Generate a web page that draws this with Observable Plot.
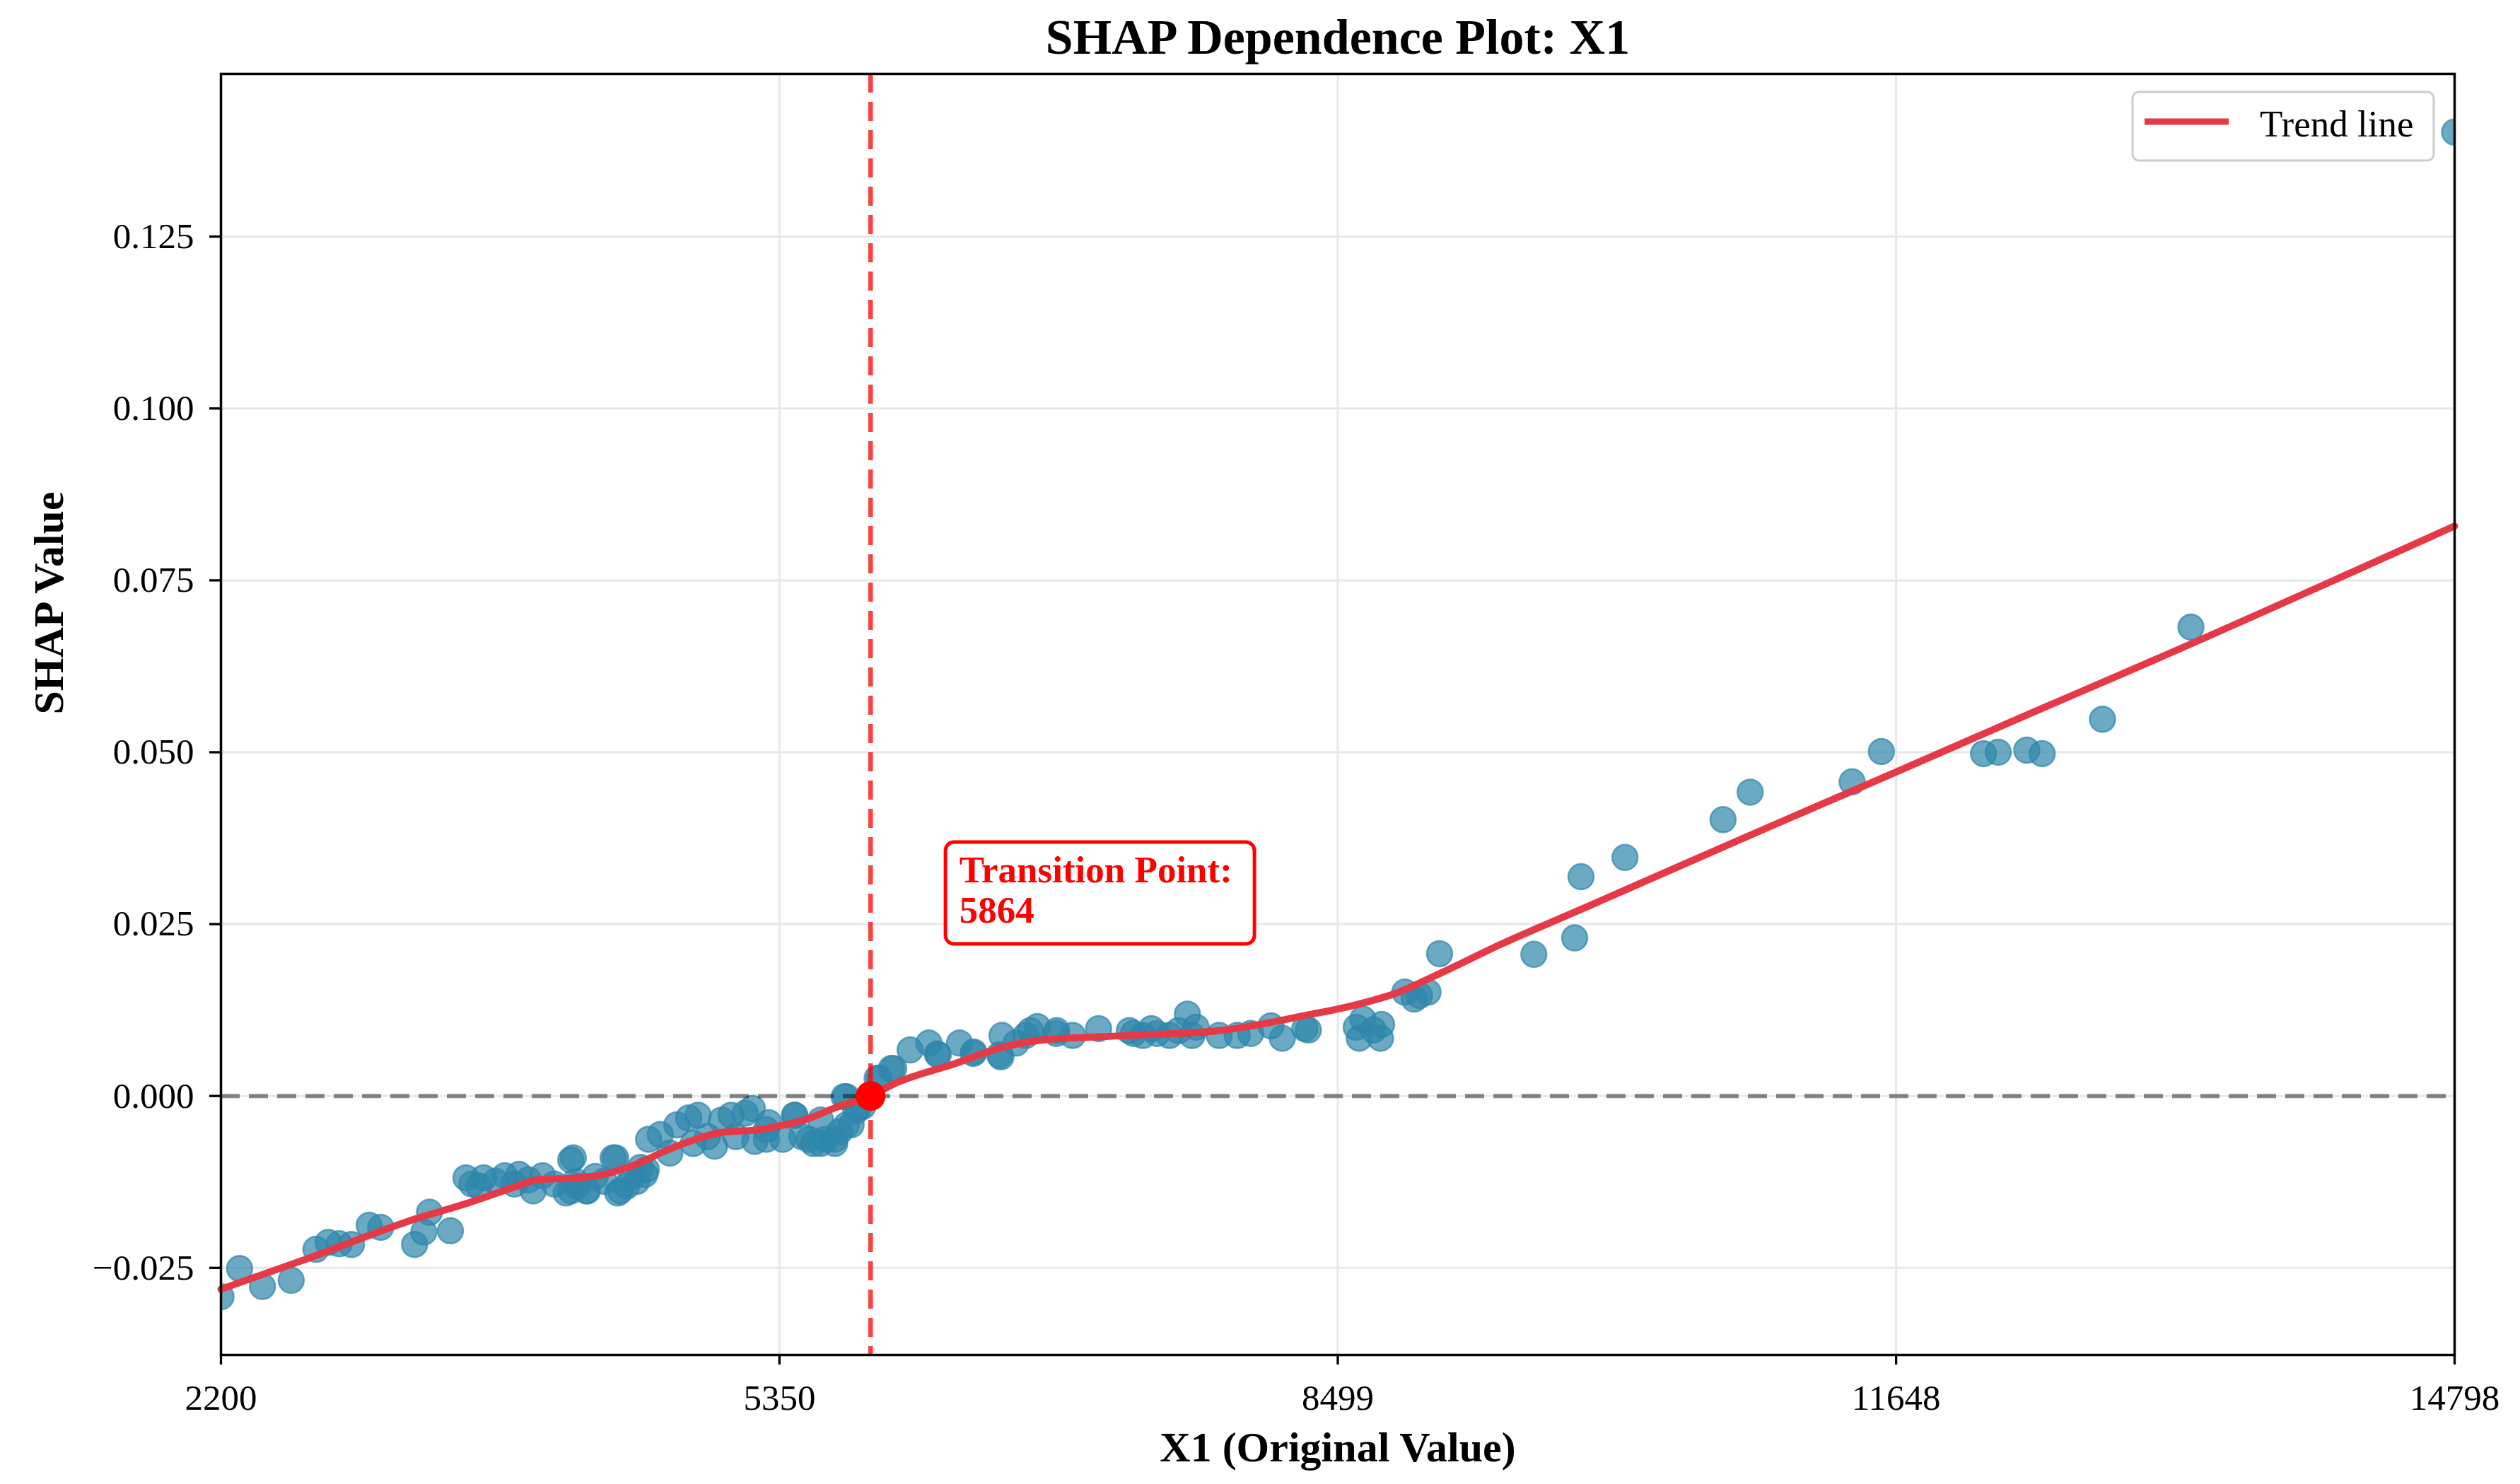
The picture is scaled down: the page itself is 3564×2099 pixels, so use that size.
<!DOCTYPE html>
<html>
<head>
<meta charset="utf-8">
<script src="https://cdn.jsdelivr.net/npm/d3@7"></script>
<script src="https://cdn.jsdelivr.net/npm/@observablehq/plot@0.6"></script>
<style>
  html, body { margin: 0; padding: 0; background: #fff; overflow: hidden; }
</style>
</head>
<body>
<div id="chart"></div>
<script>
// ---------- data ----------
const titleText = "SHAP Dependence Plot: X1";
const xLabel = "X1 (Original Value)";
const yLabel = "SHAP Value";
const legendLabel = "Trend line";

const xTicks = [2200, 5350, 8499, 11648, 14798];
const yTicks = [-0.025, 0, 0.025, 0.05, 0.075, 0.1, 0.125];

const transitionX = 5864;
const transitionY = 0;
const annotationY = 0.03;

// scatter: feature value (x) and SHAP value (y)
const featureValues = [
  2200, 2305, 2434, 2596, 2736, 2805, 2867, 2936, 3036, 3101, 3292, 3344, 3376, 3494,
  3582, 3615, 3655, 3682, 3748, 3801, 3855, 3881, 3934, 3961, 4014, 4080, 4147, 4173, 4200,
  4209, 4260, 4311, 4412, 4438, 4514, 4566, 4362, 4489, 4591,
  4187, 4174, 4267, 4426, 4453, 4546, 4599, 4612, 4678, 4732, 4771, 4838, 4864, 4891, 4944,
  4984, 5024, 5077, 5104, 5157, 5197, 5211, 5276, 5290, 5369, 5436, 5476, 5542, 5582, 5609,
  5662, 5689, 5728, 5754, 5781, 5821, 5914, 5994,
  5276, 5436, 5516, 5582, 5662, 5715, 5728, 5794, 5901, 5981,
  6087, 6193, 6246, 6366, 6446, 6605, 6592, 6685, 6765, 6805, 6911, 7004, 7150, 7323,
  6240, 6443, 6599, 6739, 6914,
  7347, 7400, 7448, 7480, 7550, 7600, 7651, 7677, 7700, 7830, 7932, 8008, 8122, 8186, 8313, 8333,
  8603, 8620, 8640, 8700, 8740, 8746,
  8877, 8930, 8960, 9008, 9073, 9605, 9835, 9871, 10119, 10672, 10825, 11400, 11565,
  12141, 12224, 12385, 12472, 12812, 13311, 14798
];
const shapValues = [
  -0.0292, -0.0251, -0.0277, -0.0268, -0.0223, -0.0213, -0.0215, -0.0216, -0.0188, -0.0191, -0.0216, -0.0198, -0.0169, -0.0196,
  -0.0119, -0.0128, -0.0131, -0.0119, -0.0124, -0.0116, -0.0128, -0.0114, -0.0122, -0.0138, -0.0116, -0.0128, -0.0141, -0.0093, -0.0124,
  -0.0131, -0.0138, -0.0117, -0.0090, -0.0141, -0.0117, -0.0104, -0.0124, -0.0131, -0.0114,
  -0.0090, -0.0138, -0.0138, -0.0090, -0.0138, -0.0124, -0.0107, -0.0063, -0.0056, -0.0083, -0.0042, -0.0032, -0.0069, -0.0028, -0.0059,
  -0.0073, -0.0035, -0.0028, -0.0059, -0.0025, -0.0018, -0.0066, -0.0063, -0.0039, -0.0063, -0.0028, -0.0059, -0.0069, -0.0035, -0.0063,
  -0.0069, -0.0052, -0.0001, -0.0042, -0.0022, -0.0015, 0.0026, 0.0040,
  -0.0049, -0.0028, -0.0063, -0.0069, -0.0063, -0.0001, -0.0042, -0.0018, 0.0026, 0.0040,
  0.0067, 0.0077, 0.0060, 0.0077, 0.0064, 0.0088, 0.0060, 0.0077, 0.0095, 0.0101, 0.0091, 0.0088, 0.0098, 0.0095,
  0.0061, 0.0062, 0.0057, 0.0088, 0.0095,
  0.0091, 0.0088, 0.0098, 0.0091, 0.0088, 0.0095, 0.0119, 0.0088, 0.0100, 0.0088, 0.0088, 0.0091, 0.0102, 0.0084, 0.0098, 0.0096,
  0.0100, 0.0084, 0.0112, 0.0096, 0.0084, 0.0104,
  0.0151, 0.0141, 0.0146, 0.0151, 0.0207, 0.0206, 0.0230, 0.0319, 0.0347, 0.0402, 0.0442, 0.0457, 0.0501,
  0.0498, 0.0500, 0.0503, 0.0498, 0.0548, 0.0682, 0.1402
];

// smoothed trend line
const trendX = [2200, 2684, 3294, 3600, 3872, 3980, 4216, 4362, 4545, 4705, 4877, 5024, 5235, 5343, 5502, 5675, 5864,
  6008, 6224, 6303, 6610, 6815, 7322, 7831, 8332, 8592, 8822, 9073, 9422, 9858, 10424, 10947, 11557, 12428, 12951, 14798];
const trendY = [-0.0281, -0.0237, -0.0179, -0.0155, -0.0131, -0.0122, -0.0119, -0.0114, -0.0099, -0.0080, -0.0063, -0.0053,
  -0.0049, -0.0044, -0.0034, -0.0016, 0.0000, 0.0019, 0.0038, 0.0044, 0.0071, 0.0081, 0.0088, 0.0095, 0.0118, 0.0132,
  0.0149, 0.0178, 0.0221, 0.0270, 0.0334, 0.0393, 0.0461, 0.0559, 0.0617, 0.0829];

// ---------- tables built from the arrays ----------
const points = featureValues.map((x, i) => ({x, y: shapValues[i]}));
const trend = trendX.map((x, i) => ({x, y: trendY[i]}));
const yMin = d3.min(shapValues), yMax = d3.max(shapValues);
const yPad = (yMax - yMin) * 0.05;

const serif = "'Liberation Serif', 'Times New Roman', serif";
const pointColor = "#2E86AB";
const trendColor = "#E63946";

const plot = Plot.plot({
  width: 3564,
  height: 2099,
  marginLeft: 312,
  marginRight: 93,
  marginTop: 104,
  marginBottom: 183,
  style: {fontFamily: serif, fontSize: "50px", background: "#fff", color: "#000"},
  x: {domain: d3.extent(featureValues), ticks: xTicks},
  y: {domain: [yMin - yPad, yMax + yPad], ticks: yTicks},
  marks: [
    Plot.gridX(xTicks, {stroke: "#e8e8e8", strokeOpacity: 1, strokeWidth: 3}),
    Plot.gridY(yTicks, {stroke: "#e8e8e8", strokeOpacity: 1, strokeWidth: 3}),
    Plot.dot(points, {x: "x", y: "y", r: 18, fill: pointColor, fillOpacity: 0.7,
      stroke: pointColor, strokeOpacity: 0.7, strokeWidth: 2.5, clip: true}),
    Plot.line(trend, {x: "x", y: "y", stroke: trendColor, strokeWidth: 10, curve: "monotone-x"}),
    Plot.ruleY([0], {stroke: "#000", strokeOpacity: 0.45, strokeWidth: 6, strokeDasharray: "27,13"}),
    Plot.ruleX([transitionX], {stroke: "red", strokeOpacity: 0.75, strokeWidth: 6.5, strokeDasharray: "27,13"}),
    Plot.dot([{x: transitionX, y: transitionY}], {x: "x", y: "y", r: 21, fill: "red"}),
    Plot.text([{x: transitionX + 500, y: annotationY, label: "Transition Point:\n" + transitionX}], {
      x: "x", y: "y", text: "label", fill: "red", fontSize: 53, fontWeight: "bold",
      textAnchor: "start", lineAnchor: "middle", lineHeight: 1.07
    }),
    Plot.axisX({ticks: xTicks, tickFormat: d3.format("d"), tickSize: 14, tickPadding: 27,
      fontSize: 51, label: null, strokeWidth: 3.3}),
    Plot.axisY({ticks: yTicks, tickFormat: d3.format(".3f"), tickSize: 16, tickPadding: 22,
      fontSize: 51, label: null, strokeWidth: 3.3}),
    Plot.frame({stroke: "#000", strokeWidth: 3.5}),
    Plot.text([titleText], {text: d => d, frameAnchor: "top", dy: -29, lineAnchor: "bottom",
      fontSize: 70, fontWeight: "bold"}),
    Plot.text([xLabel], {text: d => d, frameAnchor: "bottom", dy: 150, lineAnchor: "bottom",
      fontSize: 60, fontWeight: "bold"}),
    Plot.text([yLabel], {text: d => d, frameAnchor: "left", dx: -224, rotate: -90, lineAnchor: "bottom",
      fontSize: 60, fontWeight: "bold"})
  ]
});

document.getElementById("chart").appendChild(plot);

// ---------- annotation box and legend, placed through the plot's scales ----------
const svg = d3.select(plot);
const sx = plot.scale("x"), sy = plot.scale("y");
const frameRight = sx.range[1];
const frameTop = Math.min(...sy.range);

// annotation box behind the annotation text
const annX = sx.apply(transitionX + 500), annY = sy.apply(annotationY);
const annText = svg.selectAll("text").filter(function () {
  return this.textContent.includes("Transition Point");
}).node();
const annParent = annText ? annText.closest("g[aria-label='text']") : null;
const boxSel = annParent ? svg.insert("rect", () => annParent) : svg.append("rect");
boxSel
  .attr("x", annX - 19).attr("y", annY - 67)
  .attr("width", 437).attr("height", 144)
  .attr("rx", 12).attr("ry", 12)
  .attr("fill", "#fff").attr("stroke", "red").attr("stroke-width", 5);

// legend (upper right, inside the frame)
const lg = svg.append("g");
const lgW = 426, lgH = 97;
const lgX = frameRight - 29 - lgW, lgY = frameTop + 26;
lg.append("rect")
  .attr("x", lgX).attr("y", lgY).attr("width", lgW).attr("height", lgH)
  .attr("rx", 9).attr("ry", 9)
  .attr("fill", "#fff").attr("fill-opacity", 0.85)
  .attr("stroke", "#cccccc").attr("stroke-width", 3);
lg.append("line")
  .attr("x1", lgX + 17).attr("x2", lgX + 136)
  .attr("y1", lgY + 42).attr("y2", lgY + 42)
  .attr("stroke", trendColor).attr("stroke-width", 9);
lg.append("text")
  .attr("x", lgX + 180).attr("y", lgY + 63)
  .attr("text-anchor", "start")
  .attr("font-family", serif).attr("font-size", 53).attr("fill", "#000")
  .text(legendLabel);
</script>
</body>
</html>
